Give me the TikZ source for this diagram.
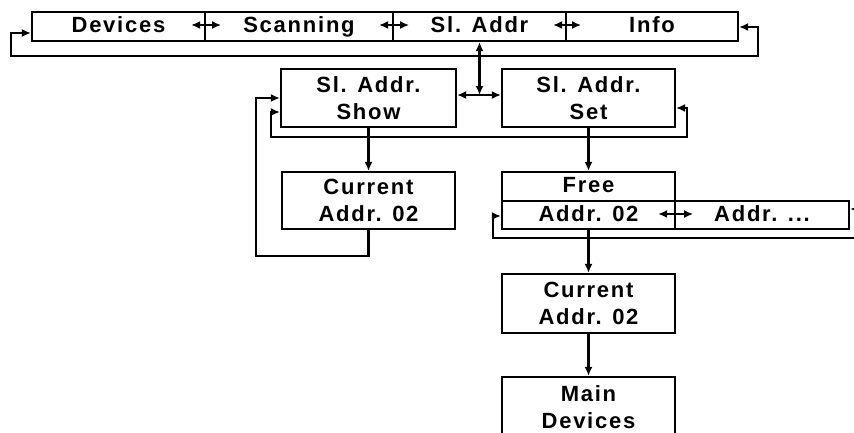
\documentclass[tikz,border=0pt]{standalone}
\usepackage{fontspec}
\setmainfont{Liberation Sans}[LetterSpace=8]
\usetikzlibrary{arrows.meta}
\tikzset{
  box/.style={draw, line width=2.2pt, inner sep=0pt, align=center,
    font=\fontsize{22}{26.5}\selectfont\bfseries},
  one/.style={text height=16pt, text depth=4pt},
  tip/.tip={Latex[length=9pt,width=8pt]},
  link/.style={line width=2.2pt, arrows={-tip}},
  dlink/.style={line width=2.2pt, arrows={tip-tip}}
}
\begin{document}
\begin{tikzpicture}[x=1pt, y=-1pt]
\useasboundingbox (0,0) rectangle (854,432);
\clip (0,0) rectangle (854,432);

% top menu row
\node[box, one, minimum width=173pt, minimum height=29pt] (dev)  at (118.5,26.5) {Devices};
\node[box, one, minimum width=188pt, minimum height=29pt] (scan) at (299,26.5)   {Scanning};
\node[box, one, minimum width=173pt, minimum height=29pt] (sla)  at (479.5,26.5) {Sl. Addr};
\node[box, one, minimum width=172pt, minimum height=29pt] (info) at (652,26.5)   {Info};

% second level
\node[box, minimum width=175pt, minimum height=58pt] (show) at (368.5,98) {Sl. Addr.\\Show};
\node[box, minimum width=173pt, minimum height=58pt] (set)  at (588.5,98) {Sl. Addr.\\Set};

% third level
\node[box, minimum width=173pt, minimum height=57pt] (cur1)  at (368.5,200.5) {Current\\Addr. 02};
\node[box, one, minimum width=173pt, minimum height=29pt] (free)  at (588.5,186.5) {Free};
\node[box, one, minimum width=173pt, minimum height=28pt] (a02)   at (588.5,215)   {Addr. 02};
\node[box, one, minimum width=174pt, minimum height=28pt] (adots) at (762,215)     {Addr. ...};

% lower chain
\node[box, minimum width=173pt, minimum height=59pt] (cur2) at (588.5,303.5) {Current\\Addr. 02};
\node[box, minimum width=173pt, minimum height=60pt] (main) at (588.5,407)   {Main\\Devices};

% junction below Sl. Addr
\coordinate (j) at (479.5,95);

% arrows inside the top row
\draw[dlink] ([xshift=-15pt,yshift=1.5pt]dev.east)  -- ([xshift=15pt,yshift=1.5pt]dev.east);
\draw[dlink] ([xshift=-15pt,yshift=1.5pt]scan.east) -- ([xshift=15pt,yshift=1.5pt]scan.east);
\draw[dlink] ([xshift=-14pt,yshift=1.5pt]sla.east)  -- ([xshift=14pt,yshift=1.5pt]sla.east);

% wrap-around of the top row
\draw[dlink] ([yshift=-6.5pt]dev.west) -- ++(-20,0) |- (758,56) |- ([yshift=-0.5pt]info.east);

% Sl. Addr to its two sub-menus
\draw[dlink] (sla.south) -- (j);
\draw[dlink] ([yshift=3pt]show.east) -- ([yshift=3pt]set.west);

% wrap-around between Show and Set
\draw[dlink] ([yshift=-14pt]show.west) -| (271,137) -| (687,108) -- ([yshift=-10pt]set.east);

% Show branch
\draw[link] (show.south) -- (cur1.north);
\draw[link] (cur1.south) -- ++(0,26) -| (256,98) -- (show.west);

% Set branch
\draw[link] (set.south) -- (free.north);
\draw[dlink] ([xshift=-18pt,yshift=1pt]a02.east) -- ([xshift=17pt,yshift=1pt]a02.east);
\draw[dlink] ([yshift=-1pt]a02.west) -| (493,238) -| (857,209) -- ([yshift=6pt]adots.east);
\draw[link] (a02.south) -- (cur2.north);
\draw[link] (cur2.south) -- (main.north);
\end{tikzpicture}
\end{document}
